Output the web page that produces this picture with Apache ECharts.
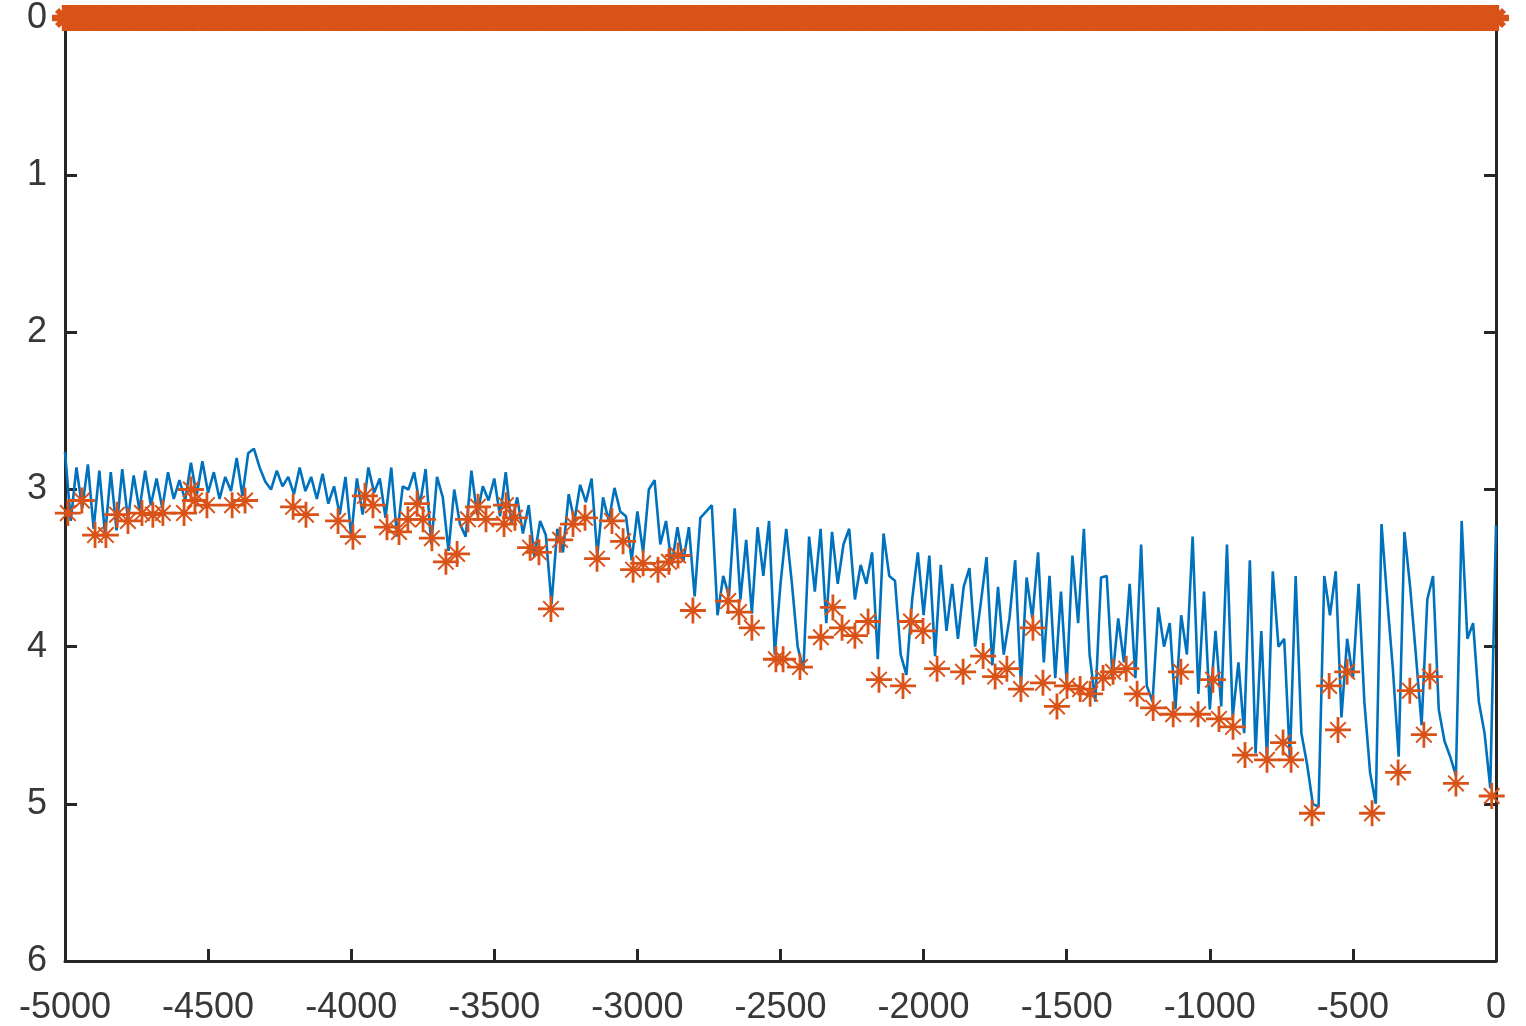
<!DOCTYPE html>
<html>
<head>
<meta charset="utf-8">
<script src="https://cdn.jsdelivr.net/npm/echarts@6/dist/echarts.min.js"></script>
<style>
  html, body { margin: 0; padding: 0; background: #fff; }
  #chart { width: 1526px; height: 1026px; }
</style>
</head>
<body>
<div id="chart"></div>
<script>
// blue trace, sampled every 20 units from -5000 to 0
const blueStart = -5000
const blueStep = 20
const blueValues = [
  2.76, 3.20, 2.86, 3.12, 2.84, 3.25, 2.88, 3.29, 2.89, 3.26,
  2.87, 3.19, 2.91, 3.13, 2.88, 3.10, 2.93, 3.12, 2.89, 3.06,
  2.94, 3.07, 2.83, 3.04, 2.82, 3.02, 2.89, 3.06, 2.92, 3.01,
  2.80, 3.04, 2.77, 2.74, 2.86, 2.95, 3.00, 2.88, 2.98, 2.92,
  3.03, 2.86, 3.01, 2.92, 3.06, 2.90, 3.09, 2.98, 3.16, 2.92,
  3.30, 2.93, 3.16, 2.86, 3.02, 2.93, 3.18, 2.86, 3.30, 2.98,
  3.00, 2.89, 3.10, 2.87, 3.35, 2.92, 3.05, 3.39, 3.00, 3.22,
  3.30, 2.88, 3.16, 2.98, 3.07, 2.93, 3.17, 2.89, 3.22, 3.05,
  3.28, 3.10, 3.43, 3.20, 3.29, 3.73, 3.25, 3.40, 3.03, 3.20,
  2.97, 3.08, 2.93, 3.42, 3.05, 3.20, 2.99, 3.14, 3.17, 3.45,
  3.14, 3.40, 3.00, 2.94, 3.35, 3.20, 3.48, 3.24, 3.46, 3.24,
  3.68, 3.18, 3.14, 3.10, 3.80, 3.55, 3.68, 3.12, 3.70, 3.32,
  3.79, 3.24, 3.55, 3.20, 4.05, 3.60, 3.25, 3.60, 4.00, 4.15,
  3.30, 3.65, 3.25, 3.85, 3.27, 3.60, 3.35, 3.25, 3.70, 3.48,
  3.60, 3.40, 4.08, 3.28, 3.55, 3.58, 4.05, 4.18, 3.70, 3.40,
  3.80, 3.42, 4.06, 3.48, 3.90, 3.60, 3.95, 3.62, 3.50, 4.00,
  3.72, 3.43, 4.12, 3.62, 4.05, 3.82, 3.45, 4.25, 3.56, 3.82,
  3.40, 4.10, 3.55, 4.20, 3.65, 4.23, 3.42, 3.85, 3.25, 4.05,
  4.35, 3.56, 3.55, 4.20, 3.82, 4.10, 3.60, 4.20, 3.35, 4.25,
  4.35, 3.75, 4.00, 3.85, 4.40, 3.80, 4.05, 3.30, 4.30, 3.65,
  4.40, 3.90, 4.38, 3.35, 4.45, 4.10, 4.55, 3.45, 4.68, 3.90,
  4.72, 3.52, 4.00, 3.95, 4.72, 3.55, 4.55, 4.75, 5.00, 5.02,
  3.55, 3.80, 3.52, 4.45, 3.95, 4.20, 3.60, 4.35, 4.80, 5.00,
  3.22, 3.70, 4.15, 4.70, 3.27, 3.62, 4.05, 4.50, 3.70, 3.55,
  4.40, 4.60, 4.70, 4.82, 3.20, 3.95, 3.85, 4.35, 4.55, 4.90, 3.23
]

// orange asterisk markers
const starX = [
  -4990, -4941, -4895, -4857, -4818, -4780, -4731, -4693, -4658, -4584,
  -4560, -4546, -4504, -4416, -4371, -4203, -4158, -4046, -3994, -3952,
  -3924, -3875, -3833, -3802, -3770, -3749, -3718, -3669, -3630, -3592,
  -3557, -3529, -3466, -3459, -3428, -3375, -3344, -3302, -3270, -3225,
  -3183, -3141, -3089, -3050, -3015, -2980, -2928, -2890, -2858, -2806,
  -2683, -2645, -2600, -2516, -2491, -2432, -2359, -2317, -2285, -2240,
  -2194, -2156, -2072, -2044, -2002, -1953, -1862, -1792, -1750, -1709,
  -1660, -1618, -1583, -1534, -1499, -1453, -1418, -1373, -1338, -1292,
  -1254, -1198, -1128, -1101, -1041, -989, -968, -919, -877, -800,
  -744, -716, -643, -583, -552, -520, -433, -342, -301, -252,
  -231, -140, -15
]
const starY = [
  3.15, 3.07, 3.29, 3.29, 3.16, 3.20, 3.15, 3.16, 3.15, 3.15,
  3.00, 3.07, 3.10, 3.10, 3.07, 3.11, 3.16, 3.20, 3.30, 3.04,
  3.10, 3.24, 3.27, 3.19, 3.09, 3.19, 3.31, 3.46, 3.41, 3.19,
  3.11, 3.19, 3.22, 3.10, 3.18, 3.37, 3.40, 3.76, 3.32, 3.22,
  3.18, 3.44, 3.20, 3.33, 3.51, 3.47, 3.51, 3.46, 3.42, 3.77,
  3.71, 3.78, 3.88, 4.08, 4.08, 4.13, 3.94, 3.75, 3.88, 3.93,
  3.84, 4.21, 4.25, 3.84, 3.90, 4.14, 4.16, 4.06, 4.19, 4.14,
  4.27, 3.88, 4.23, 4.38, 4.25, 4.27, 4.30, 4.20, 4.16, 4.14,
  4.30, 4.39, 4.43, 4.16, 4.43, 4.21, 4.46, 4.51, 4.69, 4.72,
  4.61, 4.72, 5.06, 4.25, 4.53, 4.16, 5.06, 4.80, 4.28, 4.56,
  4.19, 4.87, 4.95
]
// the row of markers sitting on zero
const topRowValue = 0

const xTicks = { min: -5000, max: 0, interval: 500 }
const yTicks = { min: 0, max: 6, interval: 1 }

const blueColor = '#0072BD'
const orangeColor = '#D95319'
const axisColor = '#262626'

const blueData = blueValues.map((v, i) => [blueStart + i * blueStep, v])
const starData = starX.map((x, i) => [x, starY[i]])
const topRowData = blueValues.map((v, i) => [blueStart + i * blueStep, topRowValue])

// asterisk: thick plus, thinner diagonals
const asterisk = 'path://M0 11.6H26V14.4H0Z M11.6 0H14.4V26H11.6Z M4.5 5.9L5.9 4.5L21.5 20.1L20.1 21.5Z M20.1 4.5L21.5 5.9L5.9 21.5L4.5 20.1Z'

const labelFont = { fontFamily: 'Liberation Sans, Arial, sans-serif', fontSize: 36, color: '#383838' }
const plain = v => String(v)

const chart = echarts.init(document.getElementById('chart'))
chart.setOption({
  animation: false,
  backgroundColor: '#fff',
  grid: { left: 65, right: 30, top: 18, bottom: 61, containLabel: false },
  xAxis: [
    {
      type: 'value', position: 'bottom',
      min: xTicks.min, max: xTicks.max, interval: xTicks.interval,
      axisLine: { show: true, onZero: false, lineStyle: { color: axisColor, width: 3 } },
      axisTick: { show: true, inside: true, length: 12, lineStyle: { color: axisColor, width: 3 } },
      axisLabel: Object.assign({ margin: 29, formatter: plain }, labelFont),
      splitLine: { show: false }
    },
    {
      type: 'value', position: 'top',
      min: xTicks.min, max: xTicks.max, interval: xTicks.interval,
      axisLine: { show: true, onZero: false, lineStyle: { color: axisColor, width: 3 } },
      axisTick: { show: true, inside: true, length: 12, lineStyle: { color: axisColor, width: 3 } },
      axisLabel: { show: false },
      splitLine: { show: false }
    }
  ],
  yAxis: [
    {
      type: 'value', position: 'left', inverse: true,
      min: yTicks.min, max: yTicks.max, interval: yTicks.interval,
      axisLine: { show: true, onZero: false, lineStyle: { color: axisColor, width: 3 } },
      axisTick: { show: true, inside: true, length: 12, lineStyle: { color: axisColor, width: 3 } },
      axisLabel: Object.assign({ margin: 18, formatter: plain }, labelFont),
      splitLine: { show: false }
    },
    {
      type: 'value', position: 'right', inverse: true,
      min: yTicks.min, max: yTicks.max, interval: yTicks.interval,
      axisLine: { show: true, onZero: false, lineStyle: { color: axisColor, width: 3 } },
      axisTick: { show: true, inside: true, length: 12, lineStyle: { color: axisColor, width: 3 } },
      axisLabel: { show: false },
      splitLine: { show: false }
    }
  ],
  series: [
    {
      name: 'trace', type: 'line', data: blueData,
      showSymbol: false, symbol: 'none',
      lineStyle: { color: blueColor, width: 2.6 },
      z: 3
    },
    {
      name: 'stars', type: 'scatter', data: starData,
      symbol: asterisk, symbolSize: 26, clip: false,
      itemStyle: { color: orangeColor, opacity: 1 },
      z: 4
    },
    {
      name: 'zero row', type: 'scatter', data: topRowData,
      symbol: asterisk, symbolSize: 22, clip: false,
      itemStyle: { color: orangeColor, opacity: 1, borderColor: orangeColor, borderWidth: 4 },
      z: 4
    }
  ]
})
</script>
</body>
</html>
